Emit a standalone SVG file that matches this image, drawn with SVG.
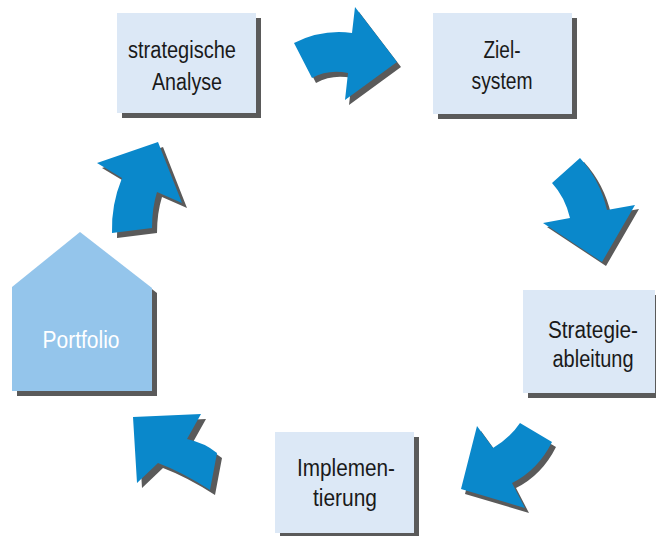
<svg xmlns="http://www.w3.org/2000/svg" width="656" height="536" viewBox="0 0 656 536">
<style>
.box{fill:#dce8f6}
.sh{fill:#5a5a5a}
.arr{fill:#0a88cb}
.t{font-family:"Liberation Sans",Arial,sans-serif;font-size:23px;fill:#1a1a1a;text-anchor:middle}
.tw{fill:#ffffff}
</style>
<defs>
<path id="a1" d="M294,43 Q322,29 352,33 L355,7 L397,62 L345,100 L348,73 Q328,69 312,78 Z"/>
<path id="a2" d="M580,158 Q600,180 607,210 L635,205 L602,262 L543,223 L570,218 Q565,197 552,183 Z"/>
<path id="a3" d="M520,423 L552,442 Q538,470 512,483 L525,508 L461,489 L477,426 L493,448 Q510,438 520,423 Z"/>
<path id="a4" d="M217,453 L210,490 Q182,472 158,463 L137,483 L133,417 L201,414 L187,439 Q205,443 217,453 Z"/>
<path id="a5" d="M112,233 L152,228 Q152,208 157,192 L182,203 L158,142 L97,163 L122,178 Q111,205 112,233 Z"/>
</defs>
<rect width="656" height="536" fill="#ffffff"/>
<g id="connectors">
<use href="#a1" class="sh" transform="translate(4,5)"/>
<use href="#a1" class="arr"/>
<use href="#a2" class="sh" transform="translate(4,4)"/>
<use href="#a2" class="arr"/>
<use href="#a3" class="sh" transform="translate(4,5)"/>
<use href="#a3" class="arr"/>
<use href="#a4" class="sh" transform="translate(5,5)"/>
<use href="#a4" class="arr"/>
<use href="#a5" class="sh" transform="translate(5,5)"/>
<use href="#a5" class="arr"/>
</g>
<g id="analyse">
<rect class="sh" x="122" y="18" width="139" height="100"/>
<rect class="box" x="117" y="13" width="139" height="100"/>
<text class="t" x="182" y="58" textLength="108" lengthAdjust="spacingAndGlyphs">strategische</text>
<text class="t" x="187" y="90" textLength="70" lengthAdjust="spacingAndGlyphs">Analyse</text>
</g>
<g id="zielsystem">
<rect class="sh" x="438" y="18" width="139" height="101"/>
<rect class="box" x="433" y="13" width="139" height="101"/>
<text class="t" x="502" y="58" textLength="37" lengthAdjust="spacingAndGlyphs">Ziel-</text>
<text class="t" x="502" y="89" textLength="61" lengthAdjust="spacingAndGlyphs">system</text>
</g>
<g id="strategieableitung">
<rect class="sh" x="528" y="295" width="133" height="103"/>
<rect class="box" x="523" y="290" width="132" height="103"/>
<text class="t" x="593" y="338" textLength="90" lengthAdjust="spacingAndGlyphs">Strategie-</text>
<text class="t" x="593" y="367" textLength="81" lengthAdjust="spacingAndGlyphs">ableitung</text>
</g>
<g id="implementierung">
<rect class="sh" x="280" y="437" width="139" height="101"/>
<rect class="box" x="275" y="432" width="139" height="101"/>
<text class="t" x="346" y="476" textLength="98" lengthAdjust="spacingAndGlyphs">Implemen-</text>
<text class="t" x="345" y="506" textLength="64" lengthAdjust="spacingAndGlyphs">tierung</text>
</g>
<g id="portfolio">
<polygon class="sh" points="85,237 157,293 157,396 17,396 17,292"/>
<polygon fill="#94c5eb" points="80,232 152,288 152,391 12,391 12,287"/>
<text class="t tw" x="81" y="348" textLength="77" lengthAdjust="spacingAndGlyphs">Portfolio</text>
</g>
</svg>
